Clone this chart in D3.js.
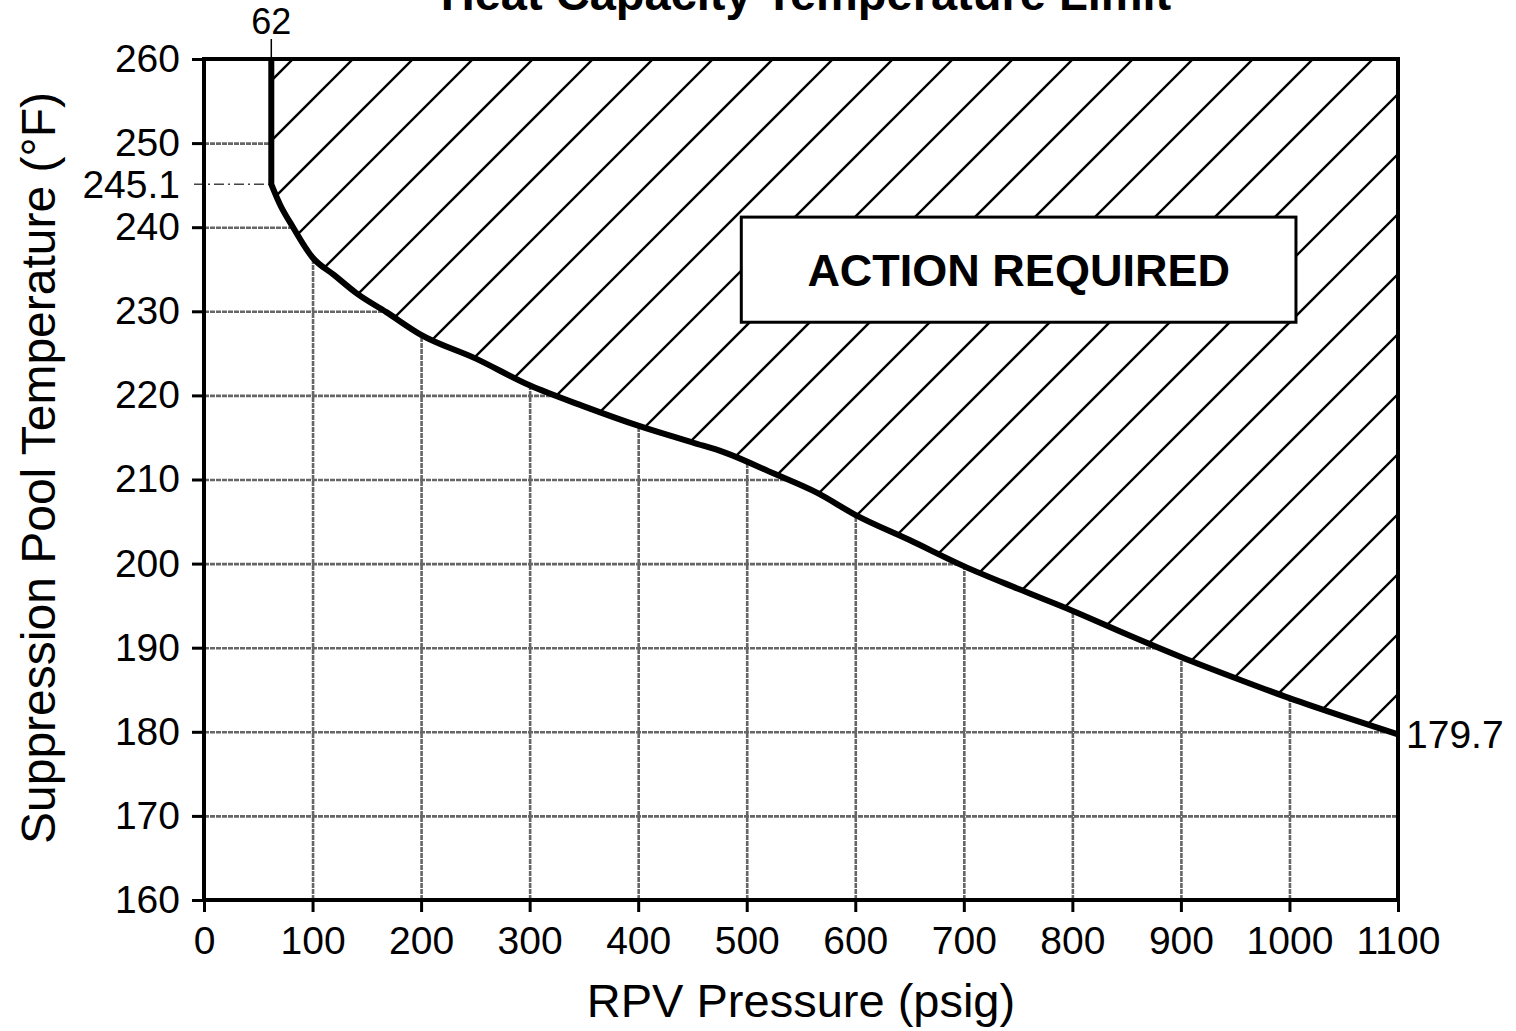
<!DOCTYPE html>
<html>
<head>
<meta charset="utf-8">
<script src="https://cdn.jsdelivr.net/npm/d3@7"></script>
<style>
  body { margin: 0; background: #fff; }
  svg { display: block; font-family: "Liberation Sans", Arial, sans-serif; }
  .axis path { display: none; }
  .axis line { stroke: #000; stroke-width: 3; }
  .axis text { font-size: 39px; fill: #000; font-family: "Liberation Sans", Arial, sans-serif; }
  .grid line { stroke: #666; stroke-width: 2.6; stroke-dasharray: 5 1; }
  .grid path { display: none; }
</style>
</head>
<body>
<svg id="chart" width="1516" height="1031"></svg>
<script>
// Heat Capacity Temperature Limit curve (first point is the top of the vertical leg)
var pressure    = [62, 62, 70, 82, 100, 120, 140, 168, 200, 250, 300, 350, 400, 450, 480, 525, 565, 600, 650, 700, 750, 800, 850, 900, 950, 1000, 1050, 1100];
var temperature = [260, 245.1, 242.7, 240, 236.4, 234.3, 232.2, 229.9, 227.2, 224.4, 221.2, 218.7, 216.4, 214.4, 213.2, 210.7, 208.4, 205.8, 202.8, 199.7, 197.0, 194.4, 191.6, 188.9, 186.4, 184.0, 181.8, 179.7];

var xTicks = [0, 100, 200, 300, 400, 500, 600, 700, 800, 900, 1000, 1100];
var yTicks = [160, 170, 180, 190, 200, 210, 220, 230, 240, 250, 260];

var kneePressure = 62, kneeTemp = 245.1, endTemp = 179.7;
var boxLabel = "ACTION REQUIRED";
var boxExtent = {x0: 495, x1: 1006, y0: 241.2, y1: 228.7};

(function() {
  "use strict";

  var svg = d3.select("#chart");
  var margin = {top: 59, right: 118, bottom: 131, left: 204},
      width = +svg.attr("width") - margin.left - margin.right,
      height = +svg.attr("height") - margin.top - margin.bottom;

  var x = d3.scaleLinear().domain([0, 1100]).range([0, width]),
      y = d3.scaleLinear().domain([160, 260]).range([height, 0]);

  var data = pressure.map(function(p, i) { return {p: p, t: temperature[i]}; });

  // title, mostly cut off at the top edge like the scan
  svg.append("text")
      .attr("x", 806).attr("y", 10)
      .attr("text-anchor", "middle")
      .attr("font-size", 47).attr("font-weight", "bold")
      .text("Heat Capacity Temperature Limit");

  var g = svg.append("g")
      .attr("transform", "translate(" + margin.left + "," + margin.top + ")");

  // grid
  g.append("g")
      .attr("class", "grid")
      .attr("transform", "translate(0," + height + ")")
      .call(d3.axisBottom(x).tickValues(xTicks.slice(1, -1)).tickSize(-height).tickFormat(""));
  g.append("g")
      .attr("class", "grid")
      .call(d3.axisLeft(y).tickValues(yTicks.slice(1, -1)).tickSize(-width).tickFormat(""));

  // vertical leg straight, then a smooth curve from the knee
  var smooth = d3.line()
      .x(function(d) { return x(d.p); })
      .y(function(d) { return y(d.t); })
      .curve(d3.curveMonotoneX);
  var curveD = "M" + x(data[0].p) + "," + y(data[0].t) +
      smooth(data.slice(1)).replace(/^M/, "L");

  // action required region (above the curve)
  var regionD = curveD + "L" + x(1100) + "," + y(260) + "Z";

  g.append("clipPath").attr("id", "hatchClip")
    .append("path").attr("d", regionD);

  g.append("path")
      .attr("d", regionD)
      .attr("fill", "#fff");

  var spacing = 60, phase = 149;
  var hatch = d3.range(phase - 60 * 3, width + height + spacing, spacing);
  g.append("g")
      .attr("clip-path", "url(#hatchClip)")
    .selectAll("line")
    .data(hatch)
    .enter().append("line")
      .attr("x1", 0).attr("y1", function(s) { return s; })
      .attr("x2", width).attr("y2", function(s) { return s - width; })
      .attr("stroke", "#000")
      .attr("stroke-width", 2.4);

  // label box
  g.append("rect")
      .attr("x", x(boxExtent.x0)).attr("y", y(boxExtent.y0))
      .attr("width", x(boxExtent.x1) - x(boxExtent.x0))
      .attr("height", y(boxExtent.y1) - y(boxExtent.y0))
      .attr("fill", "#fff").attr("stroke", "#000").attr("stroke-width", 3);
  g.append("text")
      .attr("x", (x(boxExtent.x0) + x(boxExtent.x1)) / 2)
      .attr("y", (y(boxExtent.y0) + y(boxExtent.y1)) / 2 + 16)
      .attr("text-anchor", "middle")
      .attr("font-size", 45).attr("font-weight", "bold")
      .text(boxLabel);

  // 245.1 reference line
  g.append("line")
      .attr("x1", -10).attr("x2", x(kneePressure))
      .attr("y1", y(kneeTemp)).attr("y2", y(kneeTemp))
      .attr("stroke", "#444").attr("stroke-width", 1.5)
      .attr("stroke-dasharray", "10 4 2 4");

  // frame
  g.append("rect")
      .attr("width", width).attr("height", height)
      .attr("fill", "none").attr("stroke", "#000").attr("stroke-width", 4);

  // limit curve
  g.append("path")
      .attr("d", curveD)
      .attr("fill", "none")
      .attr("stroke", "#000")
      .attr("stroke-width", 6)
      .attr("stroke-linejoin", "round");

  // axes
  g.append("g")
      .attr("class", "axis")
      .attr("transform", "translate(0," + height + ")")
      .call(d3.axisBottom(x).tickValues(xTicks).tickSize(12).tickPadding(14).tickFormat(d3.format("d")));

  g.append("g")
      .attr("class", "axis")
      .call(d3.axisLeft(y).tickValues(yTicks).tickSize(12).tickPadding(12).tickFormat(d3.format("d")));

  // callouts
  g.append("line")
      .attr("x1", x(kneePressure)).attr("x2", x(kneePressure))
      .attr("y1", 0).attr("y2", -20)
      .attr("stroke", "#000").attr("stroke-width", 1.5);
  g.append("text")
      .attr("x", x(kneePressure)).attr("y", -25)
      .attr("text-anchor", "middle")
      .attr("font-size", 36)
      .text(kneePressure);
  g.append("text")
      .attr("x", -24).attr("y", y(kneeTemp))
      .attr("dy", "0.35em")
      .attr("text-anchor", "end")
      .attr("font-size", 39)
      .text(kneeTemp);
  g.append("text")
      .attr("x", width + 8).attr("y", y(endTemp))
      .attr("dy", "0.35em")
      .attr("font-size", 39)
      .text(endTemp);

  // axis titles
  svg.append("text")
      .attr("x", 801).attr("y", 1017)
      .attr("text-anchor", "middle")
      .attr("font-size", 47)
      .text("RPV Pressure (psig)");
  svg.append("text")
      .attr("transform", "translate(55,468) rotate(-90)")
      .attr("text-anchor", "middle")
      .attr("font-size", 48)
      .text("Suppression Pool Temperature (°F)");
})();
</script>
</body>
</html>
